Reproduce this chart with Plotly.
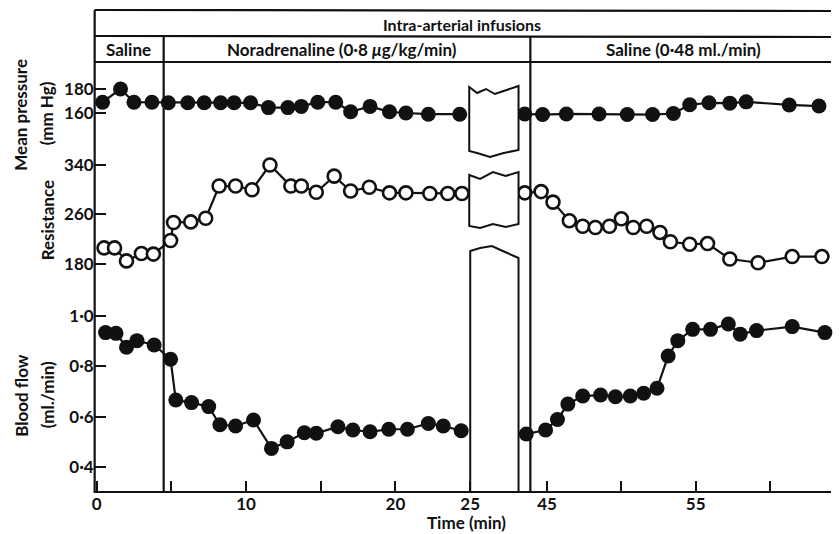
import plotly.graph_objects as go

# ---------------- data (time in min) ----------------
pressure_t_left = [0.4, 1.6, 2.5, 3.7, 4.8, 6.1, 7.2, 8.3, 9.2, 10.3, 11.5, 12.8, 13.7, 14.8,
                   16.0, 17.0, 18.3, 19.6, 20.7, 22.2, 24.3]
pressure_left = [169, 180, 169, 169, 168.5, 168.5, 168.5, 168.5, 168.5, 168.5, 164.5, 164.5, 165.5,
                 169, 169, 161, 165.5, 161, 160, 159, 159]
pressure_t_right = [43.5, 44.7, 46.3, 48.5, 50.4, 52.1, 53.5, 54.6, 55.9, 57.3, 58.4, 61.3, 63.3]
pressure_right = [159.2, 158.7, 159.2, 159.2, 158.7, 158.7, 159.6, 166.9, 168.5, 168.2, 169.3, 166.7, 165.8]

resist_t_left = [0.5, 1.2, 2.0, 3.0, 3.8, 4.95, 5.15, 6.3, 7.3, 8.2, 9.3, 10.4, 11.6, 13.0, 13.7,
                 14.7, 15.9, 17.0, 18.25, 19.6, 20.7, 22.3, 23.5, 24.45]
resist_left = [206, 206, 185, 197, 196, 218, 247, 248, 254, 306, 306, 300, 340, 306, 306,
               296, 322, 298, 304, 295, 295, 294, 294, 294]
resist_t_right = [43.5, 44.6, 45.4, 46.5, 47.4, 48.25, 49.2, 50.0, 50.8, 51.7, 52.6, 53.3, 54.6,
                  55.8, 57.3, 59.2, 61.5, 63.5]
resist_right = [295, 297, 280, 250, 241, 239, 241, 253, 239, 241, 231, 216, 212, 213, 188, 182, 192, 192]

flow_t_left = [0.6, 1.3, 2.0, 2.7, 3.85, 4.95, 5.3, 6.35, 7.5, 8.25, 9.3, 10.5, 11.7, 12.75, 13.9,
               14.7, 16.15, 17.15, 18.3, 19.55, 20.8, 22.2, 23.2, 24.4]
flow_left = [0.934, 0.931, 0.876, 0.902, 0.885, 0.828, 0.666, 0.656, 0.640, 0.568, 0.563, 0.587,
             0.474, 0.500, 0.536, 0.534, 0.560, 0.547, 0.540, 0.550, 0.550, 0.573, 0.563, 0.544]
flow_t_right = [43.6, 44.9, 45.7, 46.4, 47.4, 48.6, 49.6, 50.6, 51.5, 52.4, 53.15, 53.8, 54.8,
                56.0, 57.2, 58.0, 59.1, 61.5, 63.7]
flow_right = [0.531, 0.547, 0.589, 0.650, 0.682, 0.686, 0.679, 0.682, 0.693, 0.713, 0.841, 0.902,
              0.947, 0.947, 0.968, 0.928, 0.942, 0.958, 0.934]

x_ticks_left = [0, 5, 10, 15, 20, 25]
x_text_left = ["0", "", "10", "", "20", "25"]
x_ticks_right = [45, 50, 55, 60]
x_text_right = ["45", "", "55", ""]
p_ticks = [160, 180]
r_ticks = [180, 260, 340]
f_ticks = [0.4, 0.6, 0.8, 1.0]
f_text = ["0·4", "0·6", "0·8", "1·0"]

# ---------------- layout helpers ----------------
W, H = 840, 534
def px(x):
    return x / W
def py(y):
    return 1 - y / H

FONT = "Lato"
BLACK = "#111111"

fig = go.Figure()

def add_series(tl, vl, tr, vr, yax, filled, size):
    for t, v, xa in ((tl, vl, "x"), (tr, vr, "x2")):
        fig.add_trace(go.Scatter(
            x=t, y=v, xaxis=xa, yaxis=yax, mode="lines+markers",
            line=dict(color=BLACK, width=2.2),
            marker=dict(size=size, symbol="circle",
                        color=BLACK if filled else "white",
                        line=dict(color=BLACK, width=0 if filled else 2.6)),
            cliponaxis=False, showlegend=False, hoverinfo="skip"))

add_series(pressure_t_left, pressure_left, pressure_t_right, pressure_right, "y", True, 15)
add_series(resist_t_left, resist_left, resist_t_right, resist_right, "y2", False, 13)
add_series(flow_t_left, flow_left, flow_t_right, flow_right, "y3", True, 15)

tickfont = dict(family=FONT, size=17, color=BLACK, weight="bold")

xcommon = dict(ticks="inside", ticklen=11, tickwidth=2, tickcolor=BLACK, showgrid=False,
               zeroline=False, showline=False, tickfont=tickfont, anchor="y3", fixedrange=True)
ycommon = dict(ticks="inside", ticklen=11, tickwidth=2, tickcolor=BLACK, showgrid=False,
               zeroline=False, showline=False, tickfont=tickfont, anchor="x", fixedrange=True)

fig.update_layout(
    width=W, height=H, autosize=False,
    margin=dict(l=0, r=0, t=0, b=0),
    paper_bgcolor="white", plot_bgcolor="white",
    xaxis=dict(domain=[px(93), px(475)], range=[-0.13, 25.07],
               tickvals=x_ticks_left, ticktext=x_text_left, **xcommon),
    xaxis2=dict(domain=[px(523), 1.0], range=[43.08, 64.11],
                tickvals=x_ticks_right, ticktext=x_text_right, **xcommon),
    yaxis=dict(domain=[py(140), py(62)], range=[137.5, 202.5], tickvals=p_ticks, **ycommon),
    yaxis2=dict(domain=[py(300), py(140)], range=[121.8, 380.4], tickvals=r_ticks, **ycommon),
    yaxis3=dict(domain=[py(492), py(300)], range=[0.3007, 1.0636], tickvals=f_ticks,
                ticktext=f_text, **ycommon),
)

# ---------------- frame lines ----------------
lw = 2.2
def line(x0, y0, x1, y1, w=lw):
    fig.add_shape(type="line", xref="paper", yref="paper",
                  x0=px(x0), y0=py(y0), x1=px(x1), y1=py(y1),
                  line=dict(color=BLACK, width=w))

line(93, 10, 840, 11)      # top
line(93, 36, 840, 37)      # header separator
line(93, 62, 840, 62)      # second separator
line(93, 10, 93, 492)      # left axis
line(92, 492, 840, 492)    # bottom axis
line(163, 36, 163, 492)    # saline / noradrenaline
line(535, 36, 535, 492)    # noradrenaline / saline

# ---------------- break boxes ----------------
def path(points, close=False):
    s = "M {} {}".format(px(points[0][0]), py(points[0][1]))
    for x, y in points[1:]:
        s += " L {} {}".format(px(x), py(y))
    if close:
        s += " Z"
    return s

def brk(top, bottom):
    pts = top + list(reversed(bottom))
    fig.add_shape(type="path", xref="paper", yref="paper", path=path(pts, close=True),
                  line=dict(color=BLACK, width=2), fillcolor="white", layer="above")

# pressure box
brk([(473, 87), (481, 93), (490, 89), (499, 94), (523, 86)],
    [(473, 151), (481, 153), (494, 157), (508, 153), (523, 150)])
# resistance box
brk([(473, 175), (484, 179), (497, 172), (510, 176), (523, 172)],
    [(473, 226), (484, 228), (497, 224), (510, 227), (523, 224)])
# flow box (open at bottom, runs to axis)
fig.add_shape(type="path", xref="paper", yref="paper",
              path=path([(474, 492), (474, 251), (484, 248), (496, 246), (507, 251), (523, 258), (523, 492)]),
              line=dict(color=BLACK, width=2), layer="above")

# ---------------- texts ----------------
def text(x, y, s, size=17, angle=0):
    fig.add_annotation(x=px(x), y=py(y), xref="paper", yref="paper", text=s, showarrow=False,
                       textangle=angle, xanchor="center", yanchor="middle",
                       font=dict(family=FONT, size=size, color=BLACK, weight="bold"))

text(466, 24, "Intra-arterial infusions", 16)
text(127, 49, "Saline", 17)
text(344, 49, "Noradrenaline (0·8 <i>μ</i>g/kg/min)", 17)
text(690, 49, "Saline (0·48 ml./min)", 17)
text(18, 115, "Mean pressure", 17, -90)
text(45, 113, "(mm Hg)", 17, -90)
text(45, 220, "Resistance", 17, -90)
text(18, 395, "Blood flow", 17, -90)
text(45, 395, "(ml./min)", 17, -90)
text(470, 522, "Time (min)", 17)

fig.write_html("out.html")
